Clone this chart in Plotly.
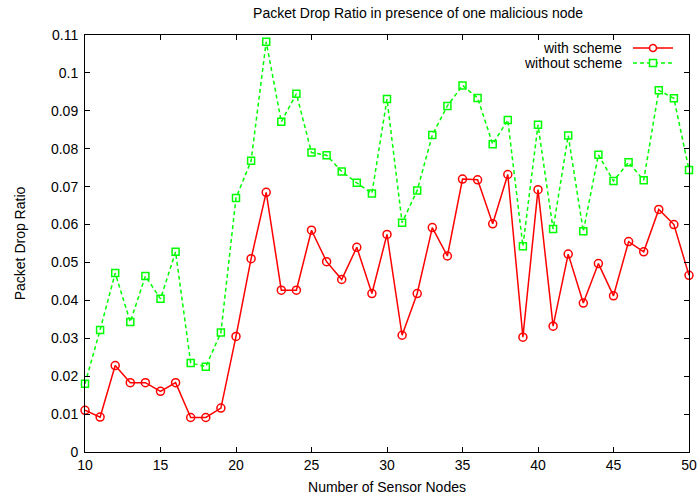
import plotly.graph_objects as go

nodes = list(range(10, 51))
with_scheme = [0.011, 0.0092, 0.0228, 0.0183, 0.0183, 0.016, 0.0183, 0.0091, 0.0091, 0.0116,
               0.0305, 0.051, 0.0685, 0.0427, 0.0427, 0.0585, 0.0502, 0.0455, 0.054, 0.0418,
               0.0574, 0.0308, 0.0418, 0.0592, 0.0517, 0.072, 0.0718, 0.0602, 0.0732, 0.0303,
               0.0692, 0.0332, 0.0522, 0.0393, 0.0497, 0.0412, 0.0555, 0.0528, 0.064, 0.06, 0.0466]
without_scheme = [0.018, 0.0322, 0.0472, 0.0343, 0.0464, 0.0404, 0.0528, 0.0235, 0.0225, 0.0315,
                  0.067, 0.0768, 0.1082, 0.0871, 0.0945, 0.079, 0.0783, 0.074, 0.071, 0.0682,
                  0.0931, 0.0605, 0.069, 0.0836, 0.0913, 0.0967, 0.0934, 0.0812, 0.0876, 0.0543,
                  0.0863, 0.0588, 0.0835, 0.0582, 0.0784, 0.0715, 0.0764, 0.0717, 0.0954, 0.0933, 0.0744]
series_names = ["with scheme", "without scheme"]

RED = "#ff0000"
GREEN = "#00ff00"
FONT = "Liberation Sans, Arial, sans-serif"
FS = 14
DASH = "4px,3px"

fig = go.Figure()
fig.add_trace(go.Scatter(x=nodes, y=with_scheme, mode="lines+markers", name=series_names[0],
                         line=dict(color=RED, width=1.5),
                         marker=dict(symbol="circle-open", size=8, color=RED, line=dict(width=1.5)),
                         cliponaxis=False, showlegend=False))
fig.add_trace(go.Scatter(x=nodes, y=without_scheme, mode="lines+markers", name=series_names[1],
                         line=dict(color=GREEN, width=1.5, dash=DASH),
                         marker=dict(symbol="square-open", size=7, color=GREEN, line=dict(width=1.5)),
                         cliponaxis=False, showlegend=False))

W, H = 700, 499
L, R, T, B = 85, 11, 35, 47
pw, ph = W - L - R, H - T - B

def px(x):  # window x -> paper
    return (x - L) / pw

def py(y):  # window y -> paper
    return 1 - (y - T) / ph

legend_rows = [(series_names[0], 48, RED, "solid", "circle"), (series_names[1], 63, GREEN, DASH, "square")]
for name, yy, col, dash, sym in legend_rows:
    fig.add_annotation(x=px(624), y=py(yy), xref="paper", yref="paper", text=name,
                       showarrow=False, xanchor="right", yanchor="middle",
                       font=dict(family=FONT, size=FS, color="#000"))
    fig.add_shape(type="line", xref="paper", yref="paper", x0=px(633), x1=px(673),
                  y0=py(yy), y1=py(yy), line=dict(color=col, width=1.5, dash=dash))
    r = 3.5
    fig.add_shape(type=("circle" if sym == "circle" else "rect"), xref="paper", yref="paper",
                  x0=px(653 - r), x1=px(653 + r), y0=py(yy - r), y1=py(yy + r),
                  line=dict(color=col, width=1.5), fillcolor="white")

axis_common = dict(showgrid=False, zeroline=False, showline=True, linecolor="#000", linewidth=1,
                   mirror="ticks", ticks="inside", ticklen=5, tickcolor="#000", automargin=False,
                   tickfont=dict(family=FONT, size=FS, color="#000"))

fig.update_layout(
    width=W, height=H,
    margin=dict(l=L, r=R, t=T, b=B, autoexpand=False),
    paper_bgcolor="white", plot_bgcolor="white",
    title=dict(text="Packet Drop Ratio in presence of one malicious node", x=386 / W, xref="paper",
               xanchor="center", y=1 - 13 / H, yanchor="middle",
               font=dict(family=FONT, size=FS, color="#000")),
    xaxis=dict(range=[10, 50], dtick=5, tick0=10,
               title=dict(text="Number of Sensor Nodes", standoff=10, font=dict(family=FONT, size=FS, color="#000")),
               **axis_common),
    yaxis=dict(range=[0, 0.11], dtick=0.01, tick0=0, ticklabelstandoff=3,
               title=dict(text="Packet Drop Ratio", standoff=22, font=dict(family=FONT, size=FS, color="#000")),
               **axis_common),
    showlegend=False,
)

fig.write_html("out.html", config={"displayModeBar": False},
               post_script="document.body.style.margin='0';")
